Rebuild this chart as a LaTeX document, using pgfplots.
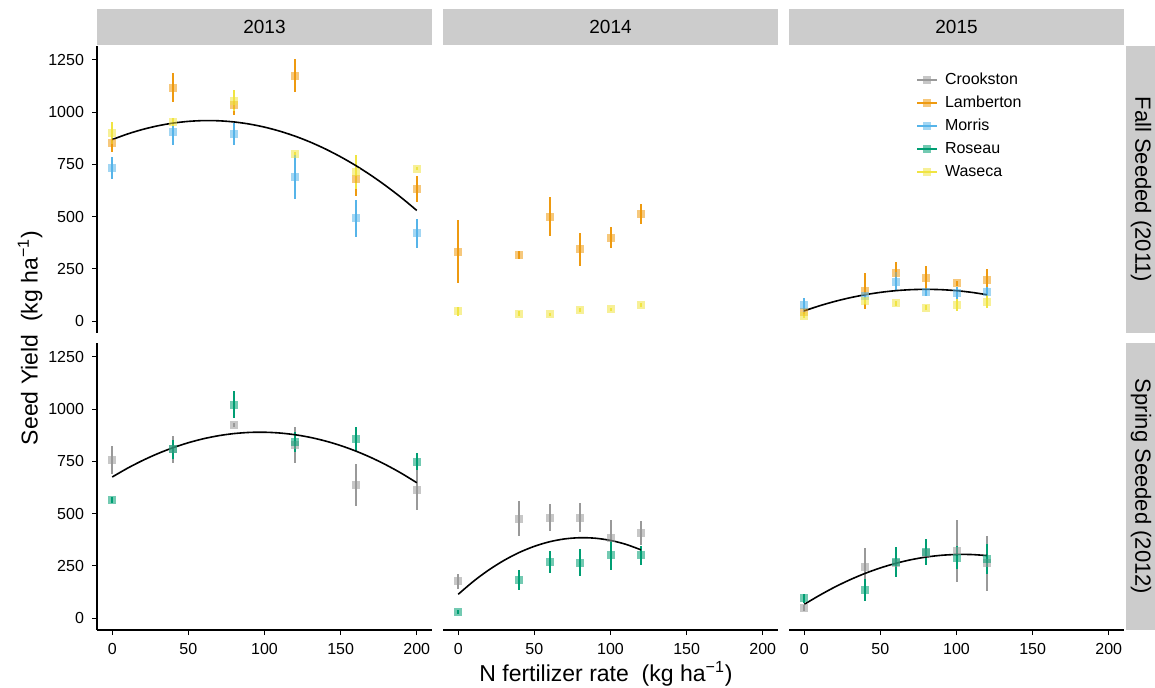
\documentclass[border=0pt]{standalone}
\usepackage{fontspec}
\setmainfont{Liberation Sans}
\usepackage{pgfplots}
\pgfplotsset{compat=1.18}
\usepackage{pgfplotstable}

\definecolor{crook}{HTML}{999999}
\definecolor{lamb}{HTML}{EE9A10}
\definecolor{morr}{HTML}{56B4E9}
\definecolor{ros}{HTML}{009E73}
\definecolor{wase}{HTML}{F0E442}
\definecolor{stripc}{HTML}{CCCCCC}

\newlength\px \setlength\px{0.5pt}

\pgfplotsset{
 panel/.style={scale only axis, width=335\px, height=287\px,
   xmin=-10, xmax=210, ymin=-57, ymax=1317,
   xtick={0,50,...,200}, ytick={0,250,...,1250},
   tick align=outside, major tick length=5\px,
   tick style={black, line width=1\px},
   axis line style={black, line width=1.3\px, -},
   ticklabel style={font=\fontsize{8}{9}\selectfont},
   xticklabel style={yshift=-1\px},
   yticklabel style={xshift=-1\px},
   /pgf/number format/assume math mode=true,
   /pgf/number format/1000 sep={},
 },
 site/.style={only marks, mark=square*, color=#1, mark size=4\px,
   mark options={draw opacity=0, fill=#1, fill opacity=0.55},
   error bars/y dir=both, error bars/y explicit, error bars/error mark=none,
   error bars/error bar style={line width=2\px, color=#1}},
 fit/.style={black, line width=1.6\px, no marks, smooth},
}

\begin{document}
\begin{tikzpicture}
\path[use as bounding box] (0,0) rectangle (1155\px,-688\px);

% strips
\fill[stripc] (97\px,-9\px) rectangle (432\px,-45\px);
\fill[stripc] (443\px,-9\px) rectangle (778\px,-45\px);
\fill[stripc] (789\px,-9\px) rectangle (1124\px,-45\px);
\fill[stripc] (1126\px,-46\px) rectangle (1155\px,-333\px);
\fill[stripc] (1126\px,-343\px) rectangle (1155\px,-630\px);
\begin{scope}[every node/.style={font=\fontsize{9.5}{11}\selectfont}]
\node at (264.5\px,-27\px) {2013};
\node at (610.5\px,-27\px) {2014};
\node at (956.5\px,-27\px) {2015};
\end{scope}
\begin{scope}[every node/.style={font=\fontsize{11}{13}\selectfont, rotate=-90}]
\node at (1141\px,-189.5\px) {Fall Seeded (2011)};
\node at (1141\px,-486.5\px) {Spring Seeded (2012)};
\end{scope}
\node[rotate=90, font=\fontsize{11.5}{13}\selectfont] at (30\px,-338\px) {Seed Yield~~(kg ha\textsuperscript{−1})};
\node[font=\fontsize{11.5}{13}\selectfont] at (606\px,-674\px) {N fertilizer rate~~(kg ha\textsuperscript{−1})};

% ---------- Fall 2013 ----------
\begin{axis}[panel, at={(97\px,-333\px)}, anchor=south west, hide x axis, axis y line*=left]
\addplot[site=lamb] table[x=x,y=y,y error=e] {
x y e
0 853 45
40 1118 68
80 1034 45
120 1175 80
160 682 85
200 631 63
};
\addplot[site=morr] table[x=x,y=y,y error=e] {
x y e
0 734 52
40 904 60
80 896 53
120 690 105
160 492 88
200 420 68
};
\addplot[site=wase] table[x=x,y=y,y error=e] {
x y e
0 899 52
40 952 20
80 1055 50
120 801 8
160 714 80
200 730 8
};
\addplot[fit] coordinates {(0,869.0) (10,895.6) (20,917.6) (30,935.0) (40,947.9) (50,956.1) (60,959.8) (70,958.9) (80,953.4) (90,943.3) (100,928.6) (110,909.3) (120,885.5) (130,857.1) (140,824.0) (150,786.4) (160,744.3) (170,697.5) (180,646.1) (190,590.2) (200,529.6)};
\end{axis}

% ---------- Fall 2014 ----------
\begin{axis}[panel, at={(443\px,-333\px)}, anchor=south west, hide axis]
\addplot[site=lamb] table[x=x,y=y,y error=e] {
x y e
0 333 149
40 317 19
60 500 92
80 344 80
100 400 50
120 512 48
};
\addplot[site=wase] table[x=x,y=y,y error=e] {
x y e
0 46 20
40 36 10
60 33 8
80 54 10
100 57 8
120 76 10
};
\end{axis}

% ---------- Fall 2015 ----------
\begin{axis}[panel, at={(789\px,-333\px)}, anchor=south west, hide axis,
  legend style={at={(0.36,0.925)}, anchor=north west, draw=none, fill=none,
    font=\fontsize{8}{9}\selectfont, row sep=3pt, column sep=3pt,
    nodes={inner sep=1\px, text height=6pt, text depth=1.5pt}},
  legend cell align=left,
  legend image code/.code={\draw[#1, mark repeat=2, mark phase=2] plot coordinates {(0pt,0pt) (5pt,0pt) (10pt,0pt)};}]
\addlegendimage{color=crook, line width=2\px, mark=square*, mark size=4\px, mark options={draw opacity=0, fill=crook, fill opacity=0.55}}
\addlegendentry{Crookston}
\addlegendimage{color=lamb, line width=2\px, mark=square*, mark size=4\px, mark options={draw opacity=0, fill=lamb, fill opacity=0.55}}
\addlegendentry{Lamberton}
\addlegendimage{color=morr, line width=2\px, mark=square*, mark size=4\px, mark options={draw opacity=0, fill=morr, fill opacity=0.55}}
\addlegendentry{Morris}
\addlegendimage{color=ros, line width=2\px, mark=square*, mark size=4\px, mark options={draw opacity=0, fill=ros, fill opacity=0.55}}
\addlegendentry{Roseau}
\addlegendimage{color=wase, line width=2\px, mark=square*, mark size=4\px, mark options={draw opacity=0, fill=wase, fill opacity=0.55}}
\addlegendentry{Waseca}
\addplot[forget plot, site=lamb] table[x=x,y=y,y error=e] {
x y e
0 43 10
40 145 86
60 228 53
80 207 55
100 180 12
120 196 55
};
\addplot[forget plot, site=morr] table[x=x,y=y,y error=e] {
x y e
0 77 32
40 120 15
60 188 45
80 137 15
100 133 30
120 137 25
};
\addplot[forget plot, site=wase] table[x=x,y=y,y error=e] {
x y e
0 24 10
40 97 15
60 85 12
80 65 12
100 77 30
120 93 30
};
\addplot[forget plot, fit] coordinates {(0,49.0) (10,73.1) (20,94.0) (30,111.7) (40,126.2) (50,137.5) (60,145.6) (70,150.4) (80,152.0) (90,150.4) (100,145.6) (110,137.5) (120,126.2)};
\end{axis}

% ---------- Spring 2013 ----------
\begin{axis}[panel, at={(97\px,-630\px)}, anchor=south west, axis x line*=bottom, axis y line*=left]
\addplot[site=crook] table[x=x,y=y,y error=e] {
x y e
0 755 67
40 809 65
80 924 10
120 830 87
160 638 101
200 615 97
};
\addplot[site=ros] table[x=x,y=y,y error=e] {
x y e
0 565 15
40 809 45
80 1021 65
120 844 47
160 857 58
200 749 41
};
\addplot[fit] coordinates {(0,675.5) (10,717.4) (20,754.8) (30,787.7) (40,815.9) (50,839.6) (60,858.8) (70,873.4) (80,883.4) (90,888.9) (100,889.8) (110,886.1) (120,877.9) (130,865.2) (140,847.8) (150,826.0) (160,799.5) (170,768.5) (180,732.9) (190,692.8) (200,648.1)};
\end{axis}

% ---------- Spring 2014 ----------
\begin{axis}[panel, at={(443\px,-630\px)}, anchor=south west, axis x line*=bottom, hide y axis]
\addplot[site=crook] table[x=x,y=y,y error=e] {
x y e
0 176 35
40 476 85
60 481 65
80 481 68
100 385 85
120 409 58
};
\addplot[site=ros] table[x=x,y=y,y error=e] {
x y e
0 29 8
40 182 48
60 270 52
80 266 66
100 301 70
120 301 46
};
\addplot[fit] coordinates {(0,114.0) (10,176.1) (20,230.1) (30,276.0) (40,313.9) (50,343.7) (60,365.5) (70,379.2) (80,384.8) (90,382.4) (100,371.9) (110,353.4) (120,326.8)};
\end{axis}

% ---------- Spring 2015 ----------
\begin{axis}[panel, at={(789\px,-630\px)}, anchor=south west, axis x line*=bottom, hide y axis]
\addplot[site=crook] table[x=x,y=y,y error=e] {
x y e
0 49 15
40 246 88
60 262 60
80 310 40
100 321 149
120 262 130
};
\addplot[site=ros] table[x=x,y=y,y error=e] {
x y e
0 94 20
40 134 52
60 270 72
80 316 62
100 289 55
120 283 70
};
\addplot[fit] coordinates {(0,65.9) (10,108.8) (20,148.4) (30,183.4) (40,214.1) (50,240.3) (60,262.0) (70,279.3) (80,292.2) (90,300.6) (100,304.6) (110,304.2) (120,299.3)};
\end{axis}
\end{tikzpicture}
\end{document}
